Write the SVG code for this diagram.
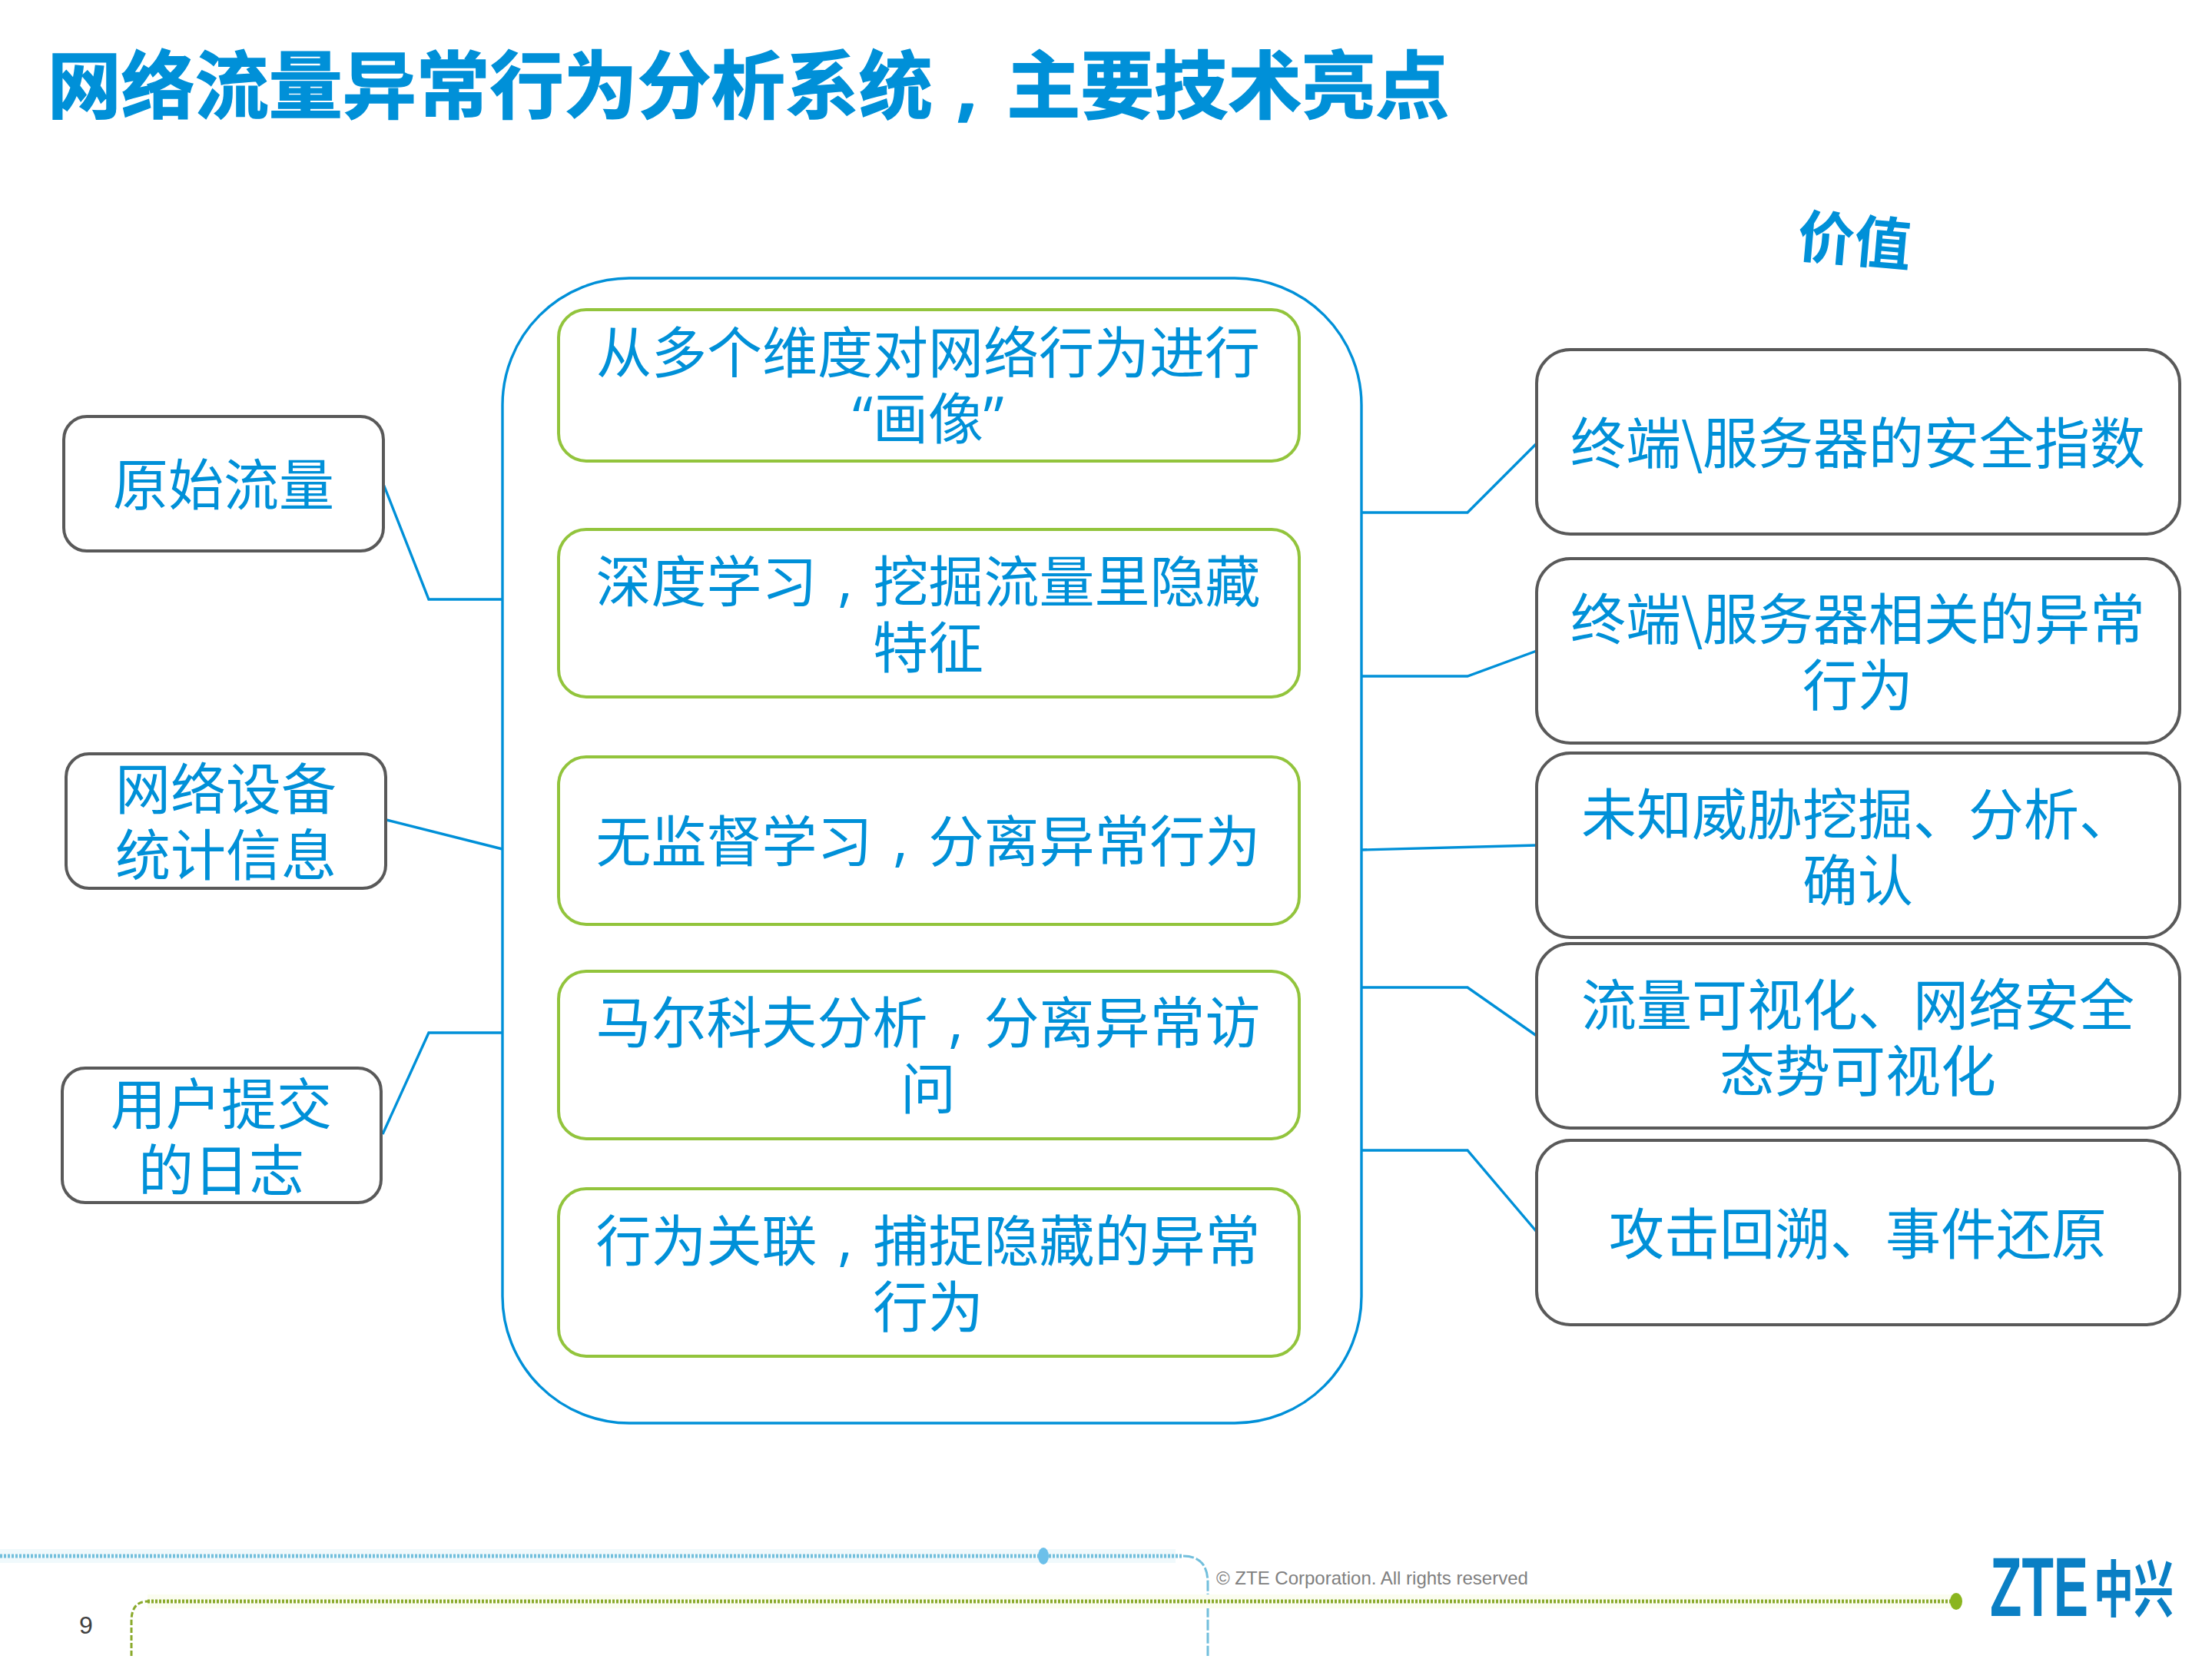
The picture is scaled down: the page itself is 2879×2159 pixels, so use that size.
<svg xmlns="http://www.w3.org/2000/svg" width="2879" height="2159" viewBox="0 0 2879 2159">
<style>
text{font-family:"Noto Sans CJK SC","Liberation Sans",sans-serif;fill:#0090d8;text-anchor:middle}
.t{font-size:72px}
.p{font-family:"Open Sans","Liberation Sans",sans-serif;font-size:76px}
.gr{fill:#fff;stroke:#92c43c;stroke-width:4}
.dk{fill:#fff;stroke:#595959;stroke-width:4}
.cn{fill:none;stroke:#0090d8;stroke-width:3.4}
.lat{font-family:"Liberation Sans",sans-serif;text-anchor:start}
</style>
<rect width="2879" height="2159" fill="#fff"/>
<g id="title"><text x="974" y="146" font-size="96" font-weight="700" stroke="#0090d8" stroke-width="1.5">网络流量异常行为分析系统<tspan dx="31" style="font-family:'Open Sans',sans-serif">,</tspan><tspan dx="38">主要技术亮点</tspan></text></g>
<g id="value-label"><text transform="translate(2414 312) rotate(5)" y="28" font-size="74" font-weight="700">价值</text></g>
<g id="connectors">
<path class="cn" d="M499 630L558 780H654"/>
<path class="cn" d="M503 1067L654 1105"/>
<path class="cn" d="M498 1476L558 1344H654"/>
<path class="cn" d="M1772 667H1910L2000 577"/>
<path class="cn" d="M1772 880H1910L2000 847"/>
<path class="cn" d="M1772 1106L2000 1100"/>
<path class="cn" d="M1772 1285H1910L2000 1348"/>
<path class="cn" d="M1772 1497H1910L2000 1603"/>
</g>
<g id="center"><rect x="654" y="362" width="1118" height="1490" rx="165" fill="none" stroke="#0090d8" stroke-width="3.4"/></g>
<g id="c1"><rect class="gr" x="727" y="403" width="964" height="197" rx="36"/><text class="t" x="1208" y="485">从多个维度对网络行为进行</text><text class="t" x="1208" y="571"><tspan class="p">“</tspan>画像<tspan class="p">”</tspan></text></g>
<g id="c2"><rect class="gr" x="727" y="689" width="964" height="218" rx="36"/><text class="t" x="1208" y="783">深度学习<tspan class="p" dx="26.7" dy="-2">,</tspan><tspan dx="26.7" dy="2">挖掘流量里隐藏</tspan></text><text class="t" x="1208" y="869">特征</text></g>
<g id="c3"><rect class="gr" x="727" y="985" width="964" height="218" rx="36"/><text class="t" x="1208" y="1121">无监督学习<tspan class="p" dx="26.7" dy="-2">,</tspan><tspan dx="26.7" dy="2">分离异常行为</tspan></text></g>
<g id="c4"><rect class="gr" x="727" y="1264" width="964" height="218" rx="36"/><text class="t" x="1208" y="1357">马尔科夫分析<tspan class="p" dx="26.7" dy="-2">,</tspan><tspan dx="26.7" dy="2">分离异常访</tspan></text><text class="t" x="1208" y="1443">问</text></g>
<g id="c5"><rect class="gr" x="727" y="1547" width="964" height="218" rx="36"/><text class="t" x="1208" y="1641">行为关联<tspan class="p" dx="26.7" dy="-2">,</tspan><tspan dx="26.7" dy="2">捕捉隐藏的异常</tspan></text><text class="t" x="1208" y="1727">行为</text></g>
<g id="l1"><rect class="dk" x="83" y="542" width="416" height="175" rx="30"/><text class="t" x="291" y="657">原始流量</text></g>
<g id="l2"><rect class="dk" x="86" y="981" width="416" height="175" rx="30"/><text class="t" x="294" y="1053">网络设备</text><text class="t" x="294" y="1139">统计信息</text></g>
<g id="l3"><rect class="dk" x="81" y="1390" width="415" height="175" rx="30"/><text class="t" x="288" y="1463">用户提交</text><text class="t" x="288" y="1549">的日志</text></g>
<g id="r1"><rect class="dk" x="2000" y="455" width="837" height="240" rx="44"/><text class="t" x="2418" y="603">终端\服务器的安全指数</text></g>
<g id="r2"><rect class="dk" x="2000" y="727" width="837" height="240" rx="44"/><text class="t" x="2418" y="832">终端\服务器相关的异常</text><text class="t" x="2418" y="918">行为</text></g>
<g id="r3"><rect class="dk" x="2000" y="980" width="837" height="240" rx="44"/><text class="t" x="2418" y="1086">未知威胁挖掘、分析、</text><text class="t" x="2418" y="1172">确认</text></g>
<g id="r4"><rect class="dk" x="2000" y="1228" width="837" height="240" rx="44"/><text class="t" x="2418" y="1334">流量可视化、网络安全</text><text class="t" x="2418" y="1420">态势可视化</text></g>
<g id="r5"><rect class="dk" x="2000" y="1484" width="837" height="240" rx="44"/><text class="t" x="2418" y="1632">攻击回溯、事件还原</text></g>
<g id="footer">
<path d="M0 2025H1530" fill="none" stroke="#f0f9fc" stroke-width="18"/>
<path d="M0 2025H1540" fill="none" stroke="#72bfdc" stroke-width="5" stroke-dasharray="3 2"/>
<path d="M1540 2025Q1572 2025 1572 2060V2155" fill="none" stroke="#72bfdc" stroke-width="3" stroke-dasharray="14 3"/>
<ellipse cx="1358" cy="2025" rx="7" ry="11" fill="#6cc0ea"/>
<path d="M192 2084H2546" fill="none" stroke="#fbfdf0" stroke-width="18"/>
<path d="M192 2084H2546" fill="none" stroke="#8aaa2c" stroke-width="5" stroke-dasharray="3 2"/>
<path d="M171 2155V2110Q171 2084 192 2084" fill="none" stroke="#8aaa2c" stroke-width="3" stroke-dasharray="7 3"/>
<ellipse cx="2546" cy="2084" rx="8" ry="11" fill="#8ab51e"/>
<text class="lat" x="1583" y="2062" font-size="24" style="fill:#808080">© ZTE Corporation. All rights reserved</text>
<text class="lat" x="103" y="2126" font-size="32" style="fill:#404040">9</text>
<text class="lat" transform="translate(2590 2103) scale(.616 1)" font-size="110" font-weight="700" style="fill:#0a7fc4">ZTE</text>
<text transform="translate(2777 2097) scale(.65 1)" font-size="80" style="fill:#0a7fc4;font-weight:700">中兴</text>
</g>
</svg>
